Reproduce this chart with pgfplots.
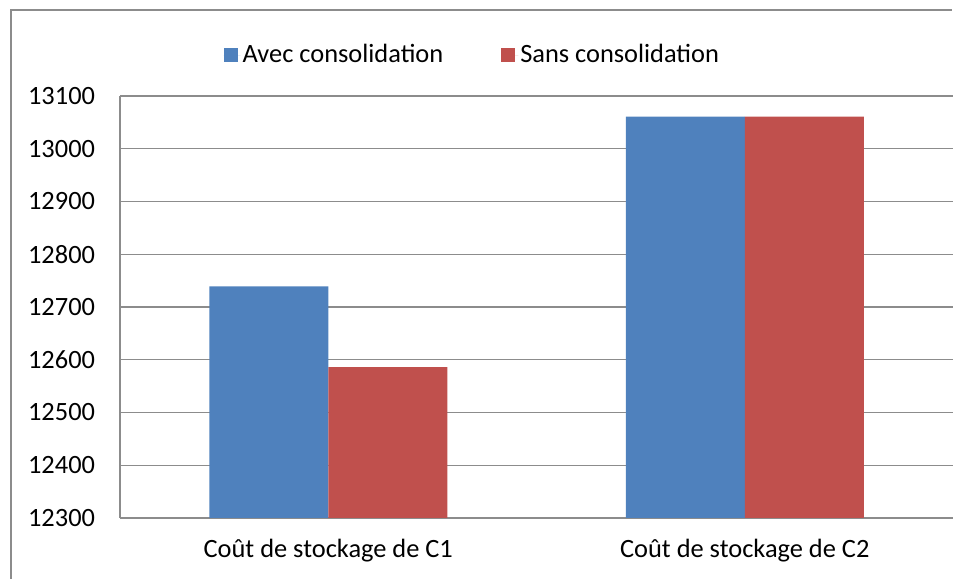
\documentclass[border=0pt]{standalone}
\usepackage{pgfplots}
\pgfplotsset{compat=1.18}
\usepackage{fontspec}
\setmainfont{Carlito}
\definecolor{cblue}{HTML}{4F81BD}
\definecolor{cred}{HTML}{C0504D}
\definecolor{cgrid}{HTML}{8C8C8C}
\begin{document}
\fontsize{26.5}{30}\selectfont
\begin{tikzpicture}[x=1bp,y=1bp]
\path[use as bounding box] (0,0) rectangle (958,579);
\draw[cgrid,line width=1.3bp] (11,0) -- (11,569) -- (952,569);
\begin{axis}[
  at={(120bp,61bp)}, anchor=south west,
  scale only axis, width=833bp, height=422bp,
  ybar=0pt, bar width=119bp,
  xmin=-0.5, xmax=1.5,
  ymin=12300, ymax=13100,
  ytick={12300,12400,...,13100},
  scaled y ticks=false,
  xtick={0,1},
  xticklabels={Coût de stockage de C1,Coût de stockage de C2},
  axis x line*=bottom, axis y line*=left,
  axis line style={cgrid,line width=1.3bp},
  major tick length=0pt,
  ymajorgrids, grid style={cgrid,line width=1.3bp},
  /pgf/number format/assume math mode=true,
  /pgf/number format/1000 sep={},
  yticklabel style={/pgf/number format/fixed, xshift=-16bp},
  xticklabel style={yshift=-12bp},
  tick label style={font=\fontsize{26.5}{30}\selectfont},
  legend style={at={(0.423,1.096)}, anchor=center, draw=none, fill=none,
    legend columns=2, font=\fontsize{26.5}{30}\selectfont,
    /tikz/every even column/.append style={column sep=56bp}},
  legend image code/.code={\fill[#1] (0bp,-7bp) rectangle (14bp,7bp); \path (0bp,0bp) -- (17bp,0bp);},
]
\addplot[fill=cblue, draw=none] coordinates {(0,12739) (1,13061)};
\addplot[fill=cred, draw=none] coordinates {(0,12586) (1,13061)};
\legend{Avec consolidation, Sans consolidation}
\end{axis}
\end{tikzpicture}
\end{document}
